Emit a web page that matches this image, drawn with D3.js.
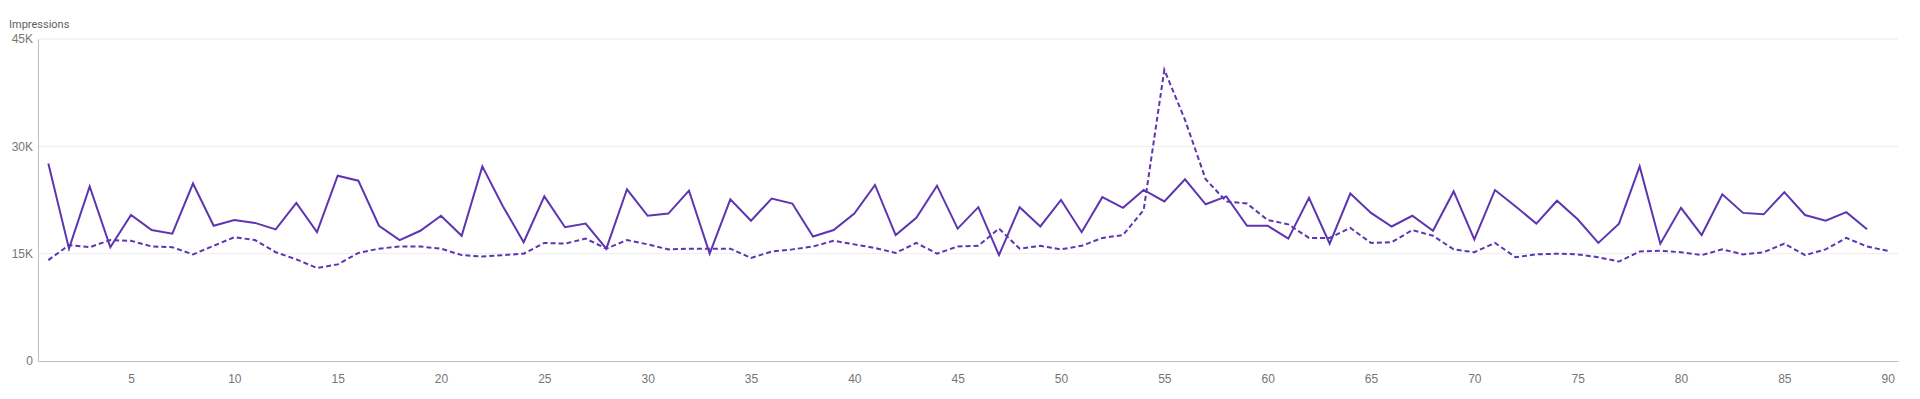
<!DOCTYPE html>
<html>
<head>
<meta charset="utf-8">
<script src="https://cdn.jsdelivr.net/npm/d3@7"></script>
<style>
  html, body { margin: 0; padding: 0; background: #fff; }
  svg { display: block; font-family: Roboto, "Noto Sans", sans-serif; }
</style>
</head>
<body>
<svg id="chart"></svg>
<script>
// day index 1..90
const days = d3.range(1, 91);

// current period (solid), 89 days
const current = [
  27600, 15700, 24400, 15900, 20400, 18300, 17800, 24800, 18900, 19700,
  19300, 18400, 22100, 18000, 25900, 25200, 18900, 16900, 18200, 20300,
  17500, 27200, 21600, 16600, 23000, 18700, 19200, 15700, 24000, 20300,
  20600, 23800, 15000, 22600, 19600, 22700, 22000, 17400, 18300, 20600,
  24600, 17600, 20000, 24500, 18500, 21500, 14800, 21500, 18800, 22500,
  18000, 22900, 21400, 23900, 22300, 25400, 21900, 23000, 18900, 18900,
  17100, 22800, 16400, 23400, 20700, 18800, 20300, 18200, 23700, 17000,
  23900, 21600, 19200, 22400, 19800, 16500, 19200, 27200, 16400, 21400,
  17600, 23300, 20700, 20500, 23600, 20400, 19600, 20800, 18400
];

// previous period (dashed), 90 days
const previous = [
  14100, 16200, 15900, 16900, 16800, 16000, 15900, 14900, 16100, 17300,
  16900, 15200, 14200, 13000, 13500, 15100, 15700, 16000, 16000, 15700,
  14800, 14600, 14800, 15000, 16500, 16400, 17100, 15700, 16900, 16300,
  15600, 15700, 15700, 15700, 14400, 15300, 15600, 16000, 16800, 16300,
  15800, 15100, 16500, 15000, 16000, 16100, 18500, 15700, 16100, 15600,
  16100, 17200, 17600, 21100, 40700, 33700, 25400, 22300, 22000, 19700,
  19100, 17200, 17200, 18600, 16500, 16600, 18300, 17500, 15600, 15200,
  16500, 14500, 14900, 15000, 14900, 14500, 13900, 15300, 15400, 15200,
  14800, 15600, 14900, 15200, 16400, 14800, 15600, 17200, 16000, 15400
];

const yTicks = [0, 15000, 30000, 45000];
const xTicks = [5, 10, 15, 20, 25, 30, 35, 40, 45, 50, 55, 60, 65, 70, 75, 80, 85, 90];
const yTitle = 'Impressions';

const W = 1920, H = 399;
const margin = { top: 39, right: 22, bottom: 38, left: 38 };
const width = W - margin.left - margin.right;
const height = H - margin.top - margin.bottom;

const svg = d3.select('#chart').attr('width', W).attr('height', H);
const g = svg.append('g').attr('transform', `translate(${margin.left},${margin.top})`);

const x = d3.scaleLinear().domain([0.5, 90.5]).range([0, width]);
const y = d3.scaleLinear().domain([0, 45000]).range([height, 0]);

// gridlines
g.append('g')
  .selectAll('line')
  .data(yTicks.filter(d => d > 0))
  .join('line')
  .attr('x1', 0).attr('x2', width)
  .attr('y1', d => y(d)).attr('y2', d => y(d))
  .attr('stroke', '#ececec').attr('stroke-width', 1);

// y axis
const yAxis = g.append('g')
  .call(d3.axisLeft(y).tickValues(yTicks).tickSize(0).tickPadding(5)
    .tickFormat(d => d === 0 ? '0' : d3.format('d')(d / 1000) + 'K'));
yAxis.select('.domain').attr('stroke', '#bdbdbd');
yAxis.selectAll('text').attr('fill', '#757575').style('font-size', '12px');

// x axis
const xAxis = g.append('g')
  .attr('transform', `translate(0,${height})`)
  .call(d3.axisBottom(x).tickValues(xTicks).tickSize(0).tickPadding(13).tickSizeOuter(0));
xAxis.select('.domain').attr('stroke', '#bdbdbd');
xAxis.selectAll('text').attr('fill', '#757575').style('font-size', '12px');

// axis title
svg.append('text')
  .attr('x', 9).attr('y', 28)
  .attr('fill', '#616161')
  .style('font-size', '11px')
  .text(yTitle);

const line = d3.line()
  .x((d, i) => x(days[i]))
  .y(d => y(d));

g.append('path')
  .datum(previous)
  .attr('fill', 'none')
  .attr('stroke', '#5e35b1')
  .attr('stroke-width', 2)
  .attr('stroke-dasharray', '5,3')
  .attr('d', line);

g.append('path')
  .datum(current)
  .attr('fill', 'none')
  .attr('stroke', '#5e35b1')
  .attr('stroke-width', 2)
  .attr('d', line);
</script>
</body>
</html>
